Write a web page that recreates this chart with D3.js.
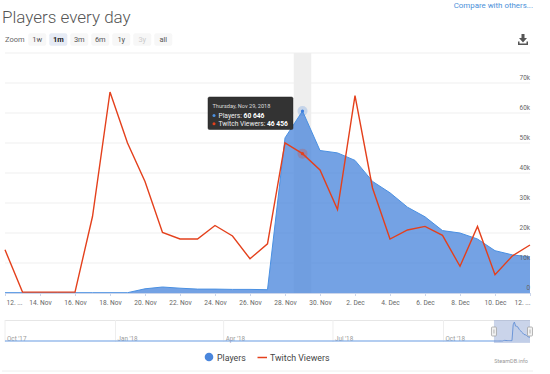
<!DOCTYPE html>
<html>
<head>
<meta charset="utf-8">
<script src="https://cdnjs.cloudflare.com/ajax/libs/d3/7.8.5/d3.min.js"></script>
<style>
  html, body { margin: 0; padding: 0; background: #fff; }
  svg { display: block; font-family: Roboto, sans-serif; }
</style>
</head>
<body>
<svg id="chart" width="550" height="374"></svg>
<script>
// Data
const players = [100, 100, 100, 100, 100, 100, 100, 100, 1400, 2000, 1600, 1300, 1300, 1200, 1200, 1100,
  51700, 60646, 47500, 46700, 44200, 37200, 33400, 28600, 25400, 20800, 20000, 18000, 14100, 12700, 12000]
const twitch = [14400, 300, 300, 300, 300, 25500, 67000, 50000, 37200, 20200, 18000, 18000, 22500, 19000, 11400, 16400,
  50000, 46456, 41000, 27800, 65800, 35000, 18000, 21000, 22200, 19200, 8900, 22200, 6100, 12400, 16000]
const zoomLabels = ['1w', '1m', '3m', '6m', '1y', '3y', 'all']
const yTicks = [0, 10000, 20000, 30000, 40000, 50000, 60000, 70000, 80000]
const navLabels = ["Oct '17", "Jan '18", "Apr '18", "Jul '18", "Oct '18"]
const navDates = ['2017-10-01', '2018-01-01', '2018-04-01', '2018-07-01', '2018-10-01']
const navBefore = [100, 100, 100, 100, 100]

const days = d3.utcDay.range(new Date(Date.UTC(2018, 10, 12)), new Date(Date.UTC(2018, 11, 13)))
const hoverIndex = 17

const svg = d3.select('#chart')
const margin = { left: 5, right: 530, top: 53, bottom: 293 }

// Scales
const xScale = d3.scaleUtc().domain([days[0], days[days.length - 1]]).range([margin.left, margin.right])
const yScale = d3.scaleLinear().domain([0, 80000]).range([margin.bottom, margin.top])
const navX = d3.scaleUtc().domain([new Date(Date.UTC(2017, 9, 1)), days[days.length - 1]]).range([margin.left, margin.right])
const navY = d3.scaleLinear().domain([0, 60646]).range([341, 322])

// Header
svg.append('text').attr('x', 2).attr('y', 22.5)
  .attr('font-size', 17).attr('font-weight', 300).attr('fill', '#555')
  .text('Players every day')

svg.append('text').attr('x', 533).attr('y', 7.5).attr('text-anchor', 'end')
  .attr('font-size', 7.9).attr('fill', '#4a90d9')
  .text('Compare with others...')

svg.append('text').attr('x', 5).attr('y', 41.5)
  .attr('font-size', 7.5).attr('fill', '#666').text('Zoom')

const btn = svg.append('g').selectAll('g').data(zoomLabels).join('g')
  .attr('transform', (d, i) => `translate(${28.3 + i * 21},33.3)`)
btn.append('rect').attr('width', 18).attr('height', 12.5).attr('rx', 2)
  .attr('fill', d => (d === '1m' ? '#e6ebf5' : '#f7f7f7'))
btn.append('text').attr('x', 9).attr('y', 8.8).attr('text-anchor', 'middle')
  .attr('font-size', 7.5)
  .attr('font-weight', d => (d === '1m' ? 700 : 400))
  .attr('fill', d => (d === '1m' ? '#222' : d === '3y' ? '#ccc' : '#555'))
  .text(d => d)

// Download icon
svg.append('path')
  .attr('d', 'M521.5 34h3v4h2.5l-4 4.5l-4-4.5h2.5z M518 41.5h1.5v2h7v-2h1.5v3.5h-10z')
  .attr('fill', '#555')

// Grid
svg.append('g').selectAll('line').data(yTicks.slice(1)).join('line')
  .attr('x1', margin.left).attr('x2', margin.right)
  .attr('y1', d => yScale(d)).attr('y2', d => yScale(d))
  .attr('stroke', '#efefef').attr('stroke-width', 1)

// Crosshair band
const bandW = xScale(days[1]) - xScale(days[0])
svg.append('rect')
  .attr('x', xScale(days[hoverIndex]) - bandW / 2).attr('width', bandW)
  .attr('y', margin.top).attr('height', margin.bottom - margin.top)
  .attr('fill', '#eeeeee')

// Series
const area = d3.area().x((d, i) => xScale(days[i])).y0(yScale(0)).y1(d => yScale(d))
const line = d3.line().x((d, i) => xScale(days[i])).y(d => yScale(d))

svg.append('path').datum(players).attr('d', area).attr('fill', '#4a86dc').attr('fill-opacity', 0.77)
svg.append('path').datum(players).attr('d', line).attr('fill', 'none').attr('stroke', '#4a90e2').attr('stroke-width', 1)
svg.append('path').datum(twitch).attr('d', line).attr('fill', 'none').attr('stroke', '#e4401c').attr('stroke-width', 1.4)

// X axis
const xTickDays = days.filter((d, i) => i % 2 === 0)
const xAxis = d3.axisBottom(xScale).tickValues(xTickDays).tickSize(3).tickFormat(d => {
  const s = d3.utcFormat('%-d. %b')(d)
  return d3.utcFormat('%-d')(d) === '12' ? '12. ...' : s
})
const xg = svg.append('g').attr('transform', `translate(0,${margin.bottom})`).call(xAxis)
xg.select('.domain').attr('stroke', '#ccd6eb')
xg.selectAll('line').attr('stroke', '#ccd6eb')
xg.selectAll('text').attr('font-size', 6.6).attr('fill', '#666').attr('font-family', 'Roboto, sans-serif').attr('dy', '0.9em')
xg.selectAll('.tick').filter((d, i) => i === 0).select('text').attr('x', 9)
xg.selectAll('.tick').filter((d, i) => i === xTickDays.length - 1).select('text').attr('x', -8)

// Y axis labels
svg.append('g').selectAll('text').data(yTicks.slice(0, -1)).join('text')
  .attr('x', margin.right).attr('y', d => yScale(d) - 3)
  .attr('text-anchor', 'end').attr('font-size', 6.4).attr('fill', '#666')
  .text(d => (d === 0 ? '0' : d / 1000 + 'k'))

// Hover markers
svg.append('circle').attr('cx', xScale(days[hoverIndex])).attr('cy', yScale(players[hoverIndex]))
  .attr('r', 5).attr('fill', '#4a86dc').attr('fill-opacity', 0.25)
svg.append('circle').attr('cx', xScale(days[hoverIndex])).attr('cy', yScale(players[hoverIndex]))
  .attr('r', 1.6).attr('fill', '#3b7ddd')
svg.append('circle').attr('cx', xScale(days[hoverIndex])).attr('cy', yScale(twitch[hoverIndex]))
  .attr('r', 5).attr('fill', '#e4401c').attr('fill-opacity', 0.25)
svg.append('circle').attr('cx', xScale(days[hoverIndex])).attr('cy', yScale(twitch[hoverIndex]))
  .attr('r', 1.6).attr('fill', '#e4401c')

// Tooltip
const tip = svg.append('g').attr('transform', 'translate(208,97)')
tip.append('rect').attr('width', 85).attr('height', 32.5).attr('rx', 1.5)
  .attr('fill', '#333').attr('stroke', '#222').attr('stroke-width', 0.5)
tip.append('text').attr('x', 4.5).attr('y', 10.5).attr('font-size', 5.6).attr('fill', '#ddd')
  .text('Thursday, Nov 29, 2018')
tip.append('circle').attr('cx', 6).attr('cy', 18.5).attr('r', 1.5).attr('fill', '#4a90e2')
tip.append('circle').attr('cx', 6).attr('cy', 26.8).attr('r', 1.5).attr('fill', '#e4401c')
const t1 = tip.append('text').attr('x', 10.5).attr('y', 21).attr('font-size', 6.7).attr('fill', '#eee')
t1.append('tspan').text('Players: ')
t1.append('tspan').attr('font-weight', 700).attr('fill', '#fff').text(d3.format(',')(players[hoverIndex]).replace(',', ' '))
const t2 = tip.append('text').attr('x', 10.5).attr('y', 29.3).attr('font-size', 6.7).attr('fill', '#eee')
t2.append('tspan').text('Twitch Viewers: ')
t2.append('tspan').attr('font-weight', 700).attr('fill', '#fff').text(d3.format(',')(twitch[hoverIndex]).replace(',', ' '))

// Navigator
const nav = svg.append('g')
nav.append('line').attr('x1', margin.left).attr('x2', margin.right).attr('y1', 320.5).attr('y2', 320.5).attr('stroke', '#e6e6e6')
const navPrev = navDates.map((d, i) => ({ date: new Date(d + 'T00:00:00Z'), label: navLabels[i], v: navBefore[i] }))
nav.selectAll('.nav-tick').data(navPrev).join('line')
  .attr('x1', d => navX(d.date)).attr('x2', d => navX(d.date))
  .attr('y1', 320).attr('y2', 342).attr('stroke', '#eee')
nav.selectAll('.nav-label').data(navPrev).join('text')
  .attr('x', d => navX(d.date) + 2).attr('y', 341)
  .attr('font-size', 6.3).attr('fill', '#999').text(d => d.label)

const navSeries = navPrev.map(d => ({ date: d.date, v: d.v }))
  .concat(days.map((d, i) => ({ date: d, v: players[i] })))
const navLine = d3.line().x(d => navX(d.date)).y(d => navY(d.v))
const navArea = d3.area().x(d => navX(d.date)).y0(342).y1(d => navY(d.v))
nav.append('path').datum(navSeries).attr('d', navArea).attr('fill', '#4a86dc').attr('fill-opacity', 0.08)
nav.append('path').datum(navSeries).attr('d', navLine).attr('fill', 'none').attr('stroke', '#6fa0e4').attr('stroke-width', 1)

const selX0 = navX(days[0])
const selX1 = navX(days[days.length - 1])
nav.append('rect').attr('x', selX0).attr('y', 320).attr('width', selX1 - selX0).attr('height', 23)
  .attr('fill', '#6685c2').attr('fill-opacity', 0.35)
nav.selectAll('.handle').data([selX0, selX1]).join('rect')
  .attr('x', d => d - 2.5).attr('y', 327).attr('width', 5).attr('height', 9).attr('rx', 1)
  .attr('fill', '#f2f2f2').attr('stroke', '#999').attr('stroke-width', 0.7)
nav.selectAll('.grip').data([selX0, selX1]).join('line')
  .attr('x1', d => d).attr('x2', d => d).attr('y1', 329.5).attr('y2', 333.5)
  .attr('stroke', '#999').attr('stroke-width', 0.7)

// Legend
svg.append('circle').attr('cx', 209).attr('cy', 357).attr('r', 4.3).attr('fill', '#4a86dc')
svg.append('text').attr('x', 217).attr('y', 360.5).attr('font-size', 8.8).attr('fill', '#444').text('Players')
svg.append('line').attr('x1', 257.5).attr('x2', 267).attr('y1', 357.5).attr('y2', 357.5).attr('stroke', '#e4401c').attr('stroke-width', 1.5)
svg.append('text').attr('x', 270).attr('y', 360.5).attr('font-size', 8.8).attr('fill', '#444').text('Twitch Viewers')
svg.append('text').attr('x', 528).attr('y', 363).attr('text-anchor', 'end').attr('font-size', 5.5).attr('fill', '#999').text('SteamDB.info')

svg.append('line').attr('x1', 2).attr('x2', 533).attr('y1', 371).attr('y2', 371).attr('stroke', '#eee')
</script>
</body>
</html>
